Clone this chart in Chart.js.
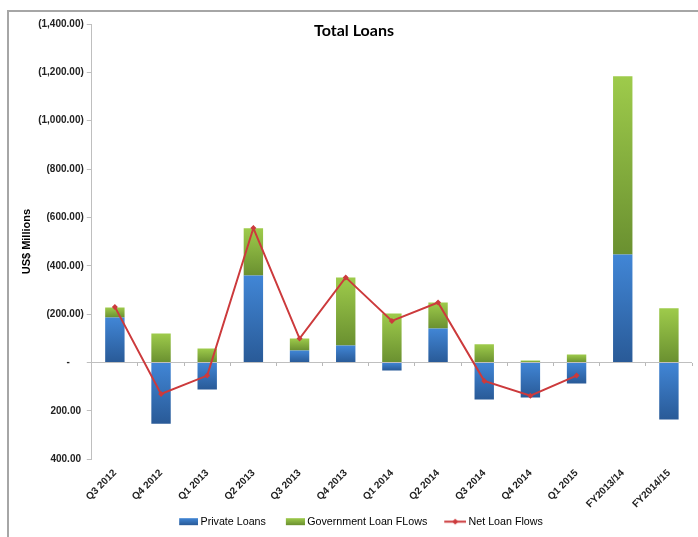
<!DOCTYPE html>
<html>
<head>
<meta charset="utf-8">
<script src="https://cdn.jsdelivr.net/npm/chart.js@4.4.1/dist/chart.umd.min.js"></script>
<style>
  body { margin: 0; background: #fff; }
  #wrap { position: relative; width: 698px; height: 537px; overflow: hidden; }
  #frame { position: absolute; left: 7px; top: 10px; width: 720px; height: 560px; border: 2px solid #a6a6a6; box-sizing: border-box; }
  #title { position: absolute; left: 0; width: 708px; top: 20px; text-align: center; font: bold 16px Lato, "Open Sans", sans-serif; color: #000; }
  canvas { position: absolute; left: 0; top: 0; }
</style>
</head>
<body>
<div id="wrap">
  <div id="frame"></div>
  <canvas id="chartLoans" width="698" height="537"></canvas>
  <div id="title">Total Loans</div>
</div>
<script>
const categories = ["Q3 2012", "Q4 2012", "Q1 2013", "Q2 2013", "Q3 2013", "Q4 2013",
  "Q1 2014", "Q2 2014", "Q3 2014", "Q4 2014", "Q1 2015", "FY2013/14", "FY2014/15"];
const privateLoans = [186, -253, -112, 360, 50, 70, -33, 141, -153, -145, -87, 447, -236];
const governmentLoans = [42, 120, 58, 195, 49, 282, 203, 107, 75, 8, 33, 737, 224];
const netLoanFlows = [230, -130, -54, 556, 99, 352, 172, 248, -76, -137, -54, null, null];
const yTicks = [-400, -200, 0, 200, 400, 600, 800, 1000, 1200, 1400];

const blueLight = "#4186d6", blueDark = "#295a97";
const greenLight = "#9ecb4b", greenDark = "#6a9030";
const netRed = "#cc3a3c";
const axisFont = "'Liberation Sans', Arial, sans-serif";

// accounting style labels, as in the original sheet
const formatTick = (v) => {
  if (v === 0) return "-     ";
  const s = Math.abs(v).toLocaleString("en-US", { minimumFractionDigits: 2, maximumFractionDigits: 2 });
  return v > 0 ? "(" + s + ")" : s + " ";
};

// gradient from top (light) to bottom (dark) of each bar segment
const segmentFill = (light, dark, isGov) => (ctx) => {
  const chart = ctx.chart;
  const y = chart.scales.y;
  if (!y || ctx.type !== "data") return dark;
  const i = ctx.dataIndex;
  let start = 0, end = privateLoans[i];
  if (isGov) {
    start = privateLoans[i] > 0 ? privateLoans[i] : 0;
    end = start + governmentLoans[i];
  }
  const p0 = y.getPixelForValue(start), p1 = y.getPixelForValue(end);
  const top = Math.min(p0, p1), bottom = Math.max(p0, p1);
  if (!isFinite(top) || bottom - top < 1) return dark;
  const g = chart.ctx.createLinearGradient(0, top, 0, bottom);
  g.addColorStop(0, light);
  g.addColorStop(1, dark);
  return g;
};

// legend icons: drawn at the right side of a wider canvas so the text sits close
const makeIcon = (draw) => {
  const c = document.createElement("canvas");
  c.width = 36;
  c.height = 9;
  draw(c.getContext("2d"));
  return c;
};
const boxIcon = (light, dark) => makeIcon((g) => {
  const grad = g.createLinearGradient(0, 1, 0, 8);
  grad.addColorStop(0, light);
  grad.addColorStop(1, dark);
  g.fillStyle = grad;
  g.fillRect(17, 1, 19, 7);
});
const legendIcons = [
  boxIcon(blueLight, blueDark),
  boxIcon(greenLight, greenDark),
  makeIcon((g) => {
    g.strokeStyle = netRed;
    g.lineWidth = 2;
    g.beginPath();
    g.moveTo(14, 4.5);
    g.lineTo(36, 4.5);
    g.stroke();
    g.fillStyle = netRed;
    g.beginPath();
    g.moveTo(25, 1.5);
    g.lineTo(28, 4.5);
    g.lineTo(25, 7.5);
    g.lineTo(22, 4.5);
    g.closePath();
    g.fill();
  }),
];

const chartLoans = new Chart(document.querySelector("#chartLoans"), {
  data: {
    labels: categories,
    datasets: [
      {
        label: "Net Loan Flows",
        type: "line",
        data: netLoanFlows,
        stack: "net",
        order: 0,
        borderColor: netRed,
        backgroundColor: netRed,
        borderWidth: 2,
        pointStyle: "rectRot",
        pointRadius: 3,
        pointBorderWidth: 0,
        tension: 0,
      },
      {
        label: "Private Loans",
        type: "bar",
        data: privateLoans,
        stack: "loans",
        order: 1,
        backgroundColor: segmentFill(blueLight, blueDark, false),
        barPercentage: 0.42,
        categoryPercentage: 1,
      },
      {
        label: "Government Loan FLows",
        type: "bar",
        data: governmentLoans,
        stack: "loans",
        order: 1,
        backgroundColor: segmentFill(greenLight, greenDark, true),
        barPercentage: 0.42,
        categoryPercentage: 1,
      },
    ],
  },
  options: {
    responsive: false,
    animation: false,
    layout: { padding: { left: 16, right: 6, top: 24, bottom: 0 } },
    plugins: {
      title: { display: false },
      tooltip: { enabled: false },
      legend: {
        position: "bottom",
        labels: {
          usePointStyle: true,
          pointStyleWidth: 30,
          padding: 6,
          color: "#000",
          font: { family: axisFont, size: 10.7 },
          sort: (a, b) => a.datasetIndex === 0 ? 1 : (b.datasetIndex === 0 ? -1 : a.datasetIndex - b.datasetIndex),
          generateLabels: (chart) => {
            const items = Chart.defaults.plugins.legend.labels.generateLabels(chart);
            items.forEach((it) => {
              it.pointStyle = legendIcons[it.datasetIndex === 0 ? 2 : it.datasetIndex - 1];
            });
            return items;
          },
        },
      },
    },
    scales: {
      x: {
        stacked: true,
        grid: { display: false },
        border: { display: false },
        ticks: {
          minRotation: 45,
          maxRotation: 45,
          padding: 0,
          color: "#222",
          font: { family: axisFont, size: 10, weight: "bold" },
        },
      },
      // category boundary ticks sitting on the zero line
      xZero: {
        type: "category",
        position: { y: 0 },
        offset: true,
        border: { display: false },
        grid: { display: true, offset: true, drawOnChartArea: false, drawTicks: true, color: "#b8b8b8", tickColor: "#b8b8b8", tickLength: 3 },
        ticks: { display: false },
      },
      y: {
        stacked: true,
        min: -400,
        max: 1400,
        afterBuildTicks: (scale) => {
          scale.ticks = yTicks.map((v) => ({ value: v }));
        },
        border: { display: true, color: "#bfbfbf", width: 1 },
        grid: {
          color: (ctx) => (ctx.tick && ctx.tick.value === 0 ? "#bfbfbf" : "rgba(0,0,0,0)"),
          tickColor: "#bfbfbf",
          tickLength: 5,
        },
        ticks: {
          callback: (v) => formatTick(v),
          color: "#222",
          padding: 3,
          font: { family: axisFont, size: 10, weight: "bold" },
        },
        title: {
          display: true,
          text: "US$ Millions",
          color: "#000",
          padding: { top: 4, bottom: 2 },
          font: { family: axisFont, size: 11, weight: "bold" },
        },
      },
    },
  },
});
</script>
</body>
</html>
